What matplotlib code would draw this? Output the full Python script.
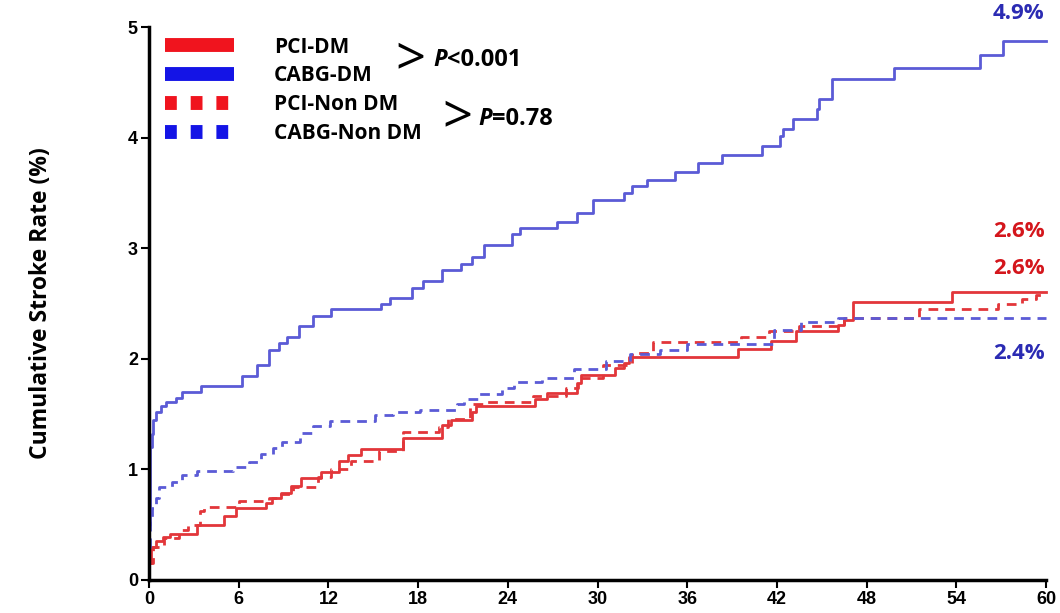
import matplotlib.pyplot as plt
from matplotlib.lines import Line2D

plt.rcParams['font.family'] = ['Open Sans', 'DejaVu Sans']

# Kaplan-Meier style step data (month, cumulative %)
cabg_dm_t = [0, 0.02, 0.05, 0.1, 0.18, 0.3, 0.45, 0.78, 1.12, 1.79, 2.24, 3.5, 6.2, 7.2, 8.0, 8.7,
             9.2, 10.0, 11.0, 12.2, 15.5, 16.1, 17.6, 18.3, 19.6, 20.9, 21.6, 22.4, 24.3, 24.8,
             27.3, 28.6, 29.7, 31.8, 32.3, 33.3, 35.2, 36.7, 38.3, 41.0, 42.2, 42.4, 43.1, 44.7,
             44.8, 45.7, 49.8, 55.6, 57.1, 60]
cabg_dm_v = [0, 0.5, 0.9, 1.2, 1.32, 1.45, 1.52, 1.57, 1.61, 1.65, 1.70, 1.75, 1.84, 1.94, 2.08, 2.14,
             2.20, 2.30, 2.39, 2.45, 2.50, 2.55, 2.64, 2.70, 2.80, 2.86, 2.92, 3.03, 3.13, 3.18,
             3.24, 3.32, 3.44, 3.50, 3.56, 3.62, 3.69, 3.77, 3.84, 3.92, 4.01, 4.08, 4.17, 4.26,
             4.35, 4.53, 4.63, 4.75, 4.87, 4.87]

pci_dm_t = [0, 0.02, 0.16, 0.5, 0.94, 1.4, 3.2, 5.0, 5.8, 7.8, 8.2, 8.8, 9.5, 10.2, 11.5, 12.7,
            13.3, 14.2, 17.0, 19.6, 20.2, 21.6, 21.9, 25.8, 26.6, 28.6, 28.9, 31.2, 31.8, 32.1,
            39.4, 41.6, 43.3, 46.1, 46.5, 47.1, 53.7, 60]
pci_dm_v = [0, 0.15, 0.30, 0.35, 0.39, 0.42, 0.50, 0.58, 0.65, 0.70, 0.74, 0.79, 0.85, 0.92, 0.98, 1.08,
            1.13, 1.18, 1.28, 1.40, 1.45, 1.52, 1.57, 1.64, 1.69, 1.78, 1.85, 1.92, 1.96, 2.02,
            2.09, 2.16, 2.25, 2.31, 2.35, 2.51, 2.60, 2.60]

pci_ndm_t = [0, 0.03, 0.3, 1.0, 2.0, 2.6, 3.4, 3.7, 6.0, 8.0, 8.8, 9.6, 11.3, 12.2, 13.5, 15.4,
             17.0, 19.4, 20.0, 21.5, 22.5, 25.7, 27.9, 28.7, 30.4, 32.3, 33.7, 39.6, 41.5, 43.5,
             46.5, 51.5, 56.8, 58.4, 59.3, 60]
pci_ndm_v = [0, 0.15, 0.30, 0.38, 0.45, 0.50, 0.62, 0.66, 0.71, 0.74, 0.78, 0.84, 0.93, 1.00, 1.08, 1.17,
             1.34, 1.38, 1.46, 1.59, 1.61, 1.66, 1.74, 1.83, 1.94, 2.05, 2.15, 2.20, 2.25, 2.30,
             2.37, 2.45, 2.50, 2.54, 2.58, 2.58]

cabg_ndm_t = [0, 0.02, 0.05, 0.2, 0.45, 0.67, 1.57, 2.24, 3.24, 5.6, 6.7, 7.5, 8.3, 8.9, 10.1, 11.0,
              12.1, 15.1, 16.3, 18.1, 20.6, 21.1, 22.1, 23.6, 24.4, 26.3, 28.4, 30.6, 32.2, 34.2,
              36.0, 41.8, 43.6, 46.1, 60]
cabg_ndm_v = [0, 0.3, 0.54, 0.65, 0.74, 0.84, 0.89, 0.95, 0.99, 1.02, 1.07, 1.14, 1.19, 1.25, 1.33, 1.39,
              1.44, 1.49, 1.52, 1.54, 1.59, 1.64, 1.68, 1.74, 1.79, 1.83, 1.91, 1.98, 2.04, 2.08,
              2.13, 2.26, 2.33, 2.37, 2.37]

end_labels = ['4.9%', '2.6%', '2.6%', '2.4%']
x_ticks = [0, 6, 12, 18, 24, 30, 36, 42, 48, 54, 60]
y_ticks = [0, 1, 2, 3, 4, 5]

red = '#e2363a'
blue = '#5b5bd6'
red_txt = '#d4161c'
blue_txt = '#2b2bb3'

fig = plt.figure(figsize=(10.6, 6.13), dpi=100)
ax = fig.add_axes([149 / 1060, 33 / 613, 897 / 1060, 553 / 613])

ax.step(cabg_dm_t, cabg_dm_v, where='post', color=blue, lw=2.0, clip_on=False)
ax.step(pci_dm_t, pci_dm_v, where='post', color=red, lw=2.0, clip_on=False)
ax.step(pci_ndm_t, pci_ndm_v, where='post', color=red, lw=2.0, dashes=(3.5, 2.5), clip_on=False)
ax.step(cabg_ndm_t, cabg_ndm_v, where='post', color=blue, lw=2.0, dashes=(3.5, 2.5), clip_on=False)

ax.set_xlim(0, 60)
ax.set_ylim(0, 5)
ax.set_xticks(x_ticks)
ax.set_yticks(y_ticks)
ax.set_xticklabels(x_ticks, fontsize=13, fontweight='bold', family=['Liberation Sans Narrow', 'Liberation Sans'])
ax.set_yticklabels(y_ticks, fontsize=13, fontweight='bold', family=['Liberation Sans', 'DejaVu Sans'])
ax.tick_params(width=1.5, length=6, pad=2)
for s in ['top', 'right']:
    ax.spines[s].set_visible(False)
for s in ['left', 'bottom']:
    ax.spines[s].set_linewidth(2.5)
ax.set_ylabel('Cumulative Stroke Rate (%)', fontsize=16.5, fontweight='bold', labelpad=54)

# end-of-curve percentages
ax.text(59.9, 5.03, end_labels[0], color=blue_txt, fontsize=16, fontweight='bold', ha='right', va='bottom')
ax.text(59.9, 3.15, end_labels[1], color=red_txt, fontsize=16, fontweight='bold', ha='right', va='center')
ax.text(59.9, 2.82, end_labels[2], color=red_txt, fontsize=16, fontweight='bold', ha='right', va='center')
ax.text(59.9, 2.05, end_labels[3], color=blue_txt, fontsize=16, fontweight='bold', ha='right', va='center')

handles = [
    Line2D([], [], color='#f0141e', lw=10, solid_capstyle='butt'),
    Line2D([], [], color='#1414e6', lw=10, solid_capstyle='butt'),
    Line2D([], [], color='#f0141e', lw=10, dashes=(0.85, 1.0), dash_capstyle='butt'),
    Line2D([], [], color='#1414e6', lw=10, dashes=(0.85, 1.0), dash_capstyle='butt'),
]
labels = ['PCI-DM', 'CABG-DM', 'PCI-Non DM', 'CABG-Non DM']
ax.legend(handles, labels, loc='upper left', bbox_to_anchor=(0.0, 1.011), frameon=False,
          prop={'size': 15, 'weight': 'bold'}, handlelength=3.35, handletextpad=1.9,
          labelspacing=0.38, borderaxespad=0.35)

# p-value brackets
ax.text(17.5, 4.7, '>', fontsize=38, ha='center', va='center')
t1 = ax.text(19.0, 4.7, 'P', fontsize=17, style='italic', fontweight='bold', va='center')
ax.annotate('<0.001', xy=(1, 0), xycoords=t1, va='bottom', fontsize=17, fontweight='bold')
ax.text(20.6, 4.17, '>', fontsize=38, ha='center', va='center')
t2 = ax.text(22.0, 4.17, 'P', fontsize=17, style='italic', fontweight='bold', va='center')
ax.annotate('=0.78', xy=(1, 0), xycoords=t2, va='bottom', fontsize=17, fontweight='bold')

fig.savefig('out.png', dpi=100)
